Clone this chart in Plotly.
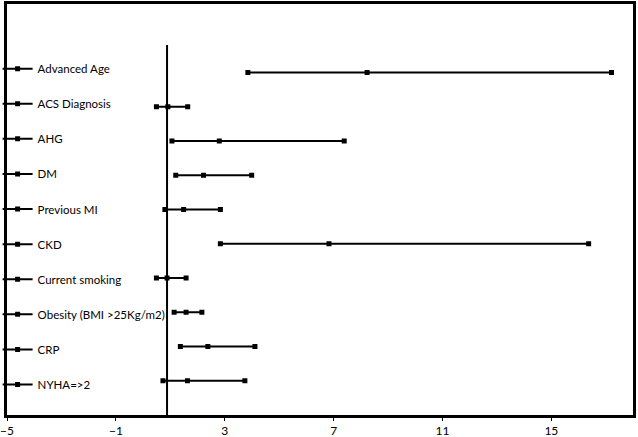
import plotly.graph_objects as go

categories = ["Advanced Age", "ACS Diagnosis", "AHG", "DM", "Previous MI", "CKD",
              "Current smoking", "Obesity (BMI >25Kg/m2)", "CRP", "NYHA=>2"]
row_pos = [10, 9, 8, 7, 6, 5, 4, 3, 2, 1]
lower = [3.85, 0.49, 1.06, 1.20, 0.80, 2.84, 0.49, 1.14, 1.37, 0.73]
estimate = [8.23, 0.91, 2.80, 2.22, 1.49, 6.83, 0.88, 1.58, 2.38, 1.63]
upper = [17.21, 1.64, 7.39, 3.99, 2.84, 16.37, 1.58, 2.16, 4.11, 3.74]
ref_line_x = [0.88, 0.88]
ref_line_y = [0, 10.8]
x_ticks = [-5, -1, 3, 7, 11, 15]

fig = go.Figure()
for i, name in enumerate(categories):
    fig.add_trace(go.Scatter(
        x=[lower[i], estimate[i], upper[i]],
        y=[row_pos[i]] * 3,
        mode="lines+markers",
        name=name,
        legendgroup=name,
        line=dict(color="black", width=2),
        marker=dict(symbol="square", size=5, color="black"),
        hoverinfo="x+name",
    ))

fig.add_trace(go.Scatter(
    x=ref_line_x, y=ref_line_y, mode="lines",
    line=dict(color="black", width=2), showlegend=False, hoverinfo="skip",
))

label_font = "'Liberation Sans Narrow', 'Arial Narrow', Lato, sans-serif"

fig.update_layout(
    width=638, height=437,
    margin=dict(l=7, r=5, t=4, b=22, autoexpand=False),
    paper_bgcolor="white", plot_bgcolor="white",
    font=dict(family="Lato, 'Open Sans', sans-serif", size=12, color="black"),
    legend=dict(
        x=-0.015, y=0.878, xanchor="left", yanchor="top",
        bgcolor="rgba(0,0,0,0)", borderwidth=0,
        itemwidth=30, tracegroupgap=16.1,
        font=dict(family=label_font, size=11.5, color="black"),
    ),
    xaxis=dict(
        range=[-5, 18], tickmode="array", tickvals=x_ticks,
        showgrid=False, zeroline=False,
        showline=True, linecolor="black", linewidth=3, mirror=True,
        ticks="outside", ticklen=3, tickcolor="black", tickwidth=1,
        tickfont=dict(family=label_font, size=12, color="black"),
    ),
    yaxis=dict(
        range=[0, 12], showticklabels=False, showgrid=False, zeroline=False,
        showline=True, linecolor="black", linewidth=3, mirror=True, ticks="",
    ),
)

fig.write_html("out.html", config={"displayModeBar": False},
               post_script="document.body.style.margin='0';")
